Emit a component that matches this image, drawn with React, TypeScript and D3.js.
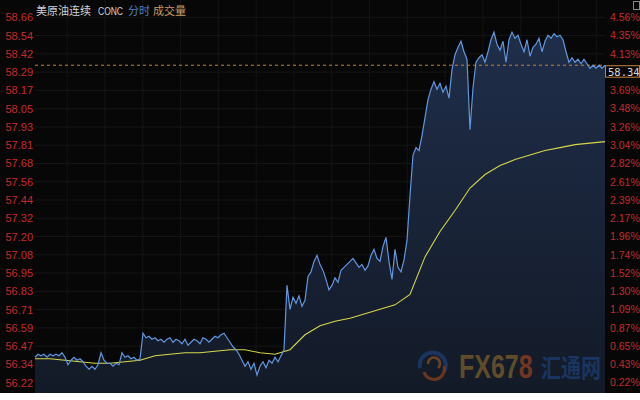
import React from "react";
import * as d3 from "d3";

const leftTicks = ["58.66","58.54","58.42","58.29","58.17","58.05","57.93","57.81","57.68","57.56","57.44","57.32","57.20","57.08","56.95","56.83","56.71","56.59","56.47","56.34","56.22"];
const rightTicks = ["4.56%","4.35%","4.13%","3.91%","3.69%","3.48%","3.26%","3.04%","2.82%","2.61%","2.39%","2.17%","1.96%","1.74%","1.52%","1.30%","1.09%","0.87%","0.65%","0.43%","0.22%"];

const priceMax = 58.66;
const priceMin = 56.22;
const lastPrice = 58.34;

// minute-by-minute price (sampled)
const prices = [
  56.39,56.41,56.40,56.41,56.39,56.41,56.40,56.41,56.40,56.42,
  56.39,56.34,56.37,56.39,56.37,56.38,56.36,56.33,56.31,56.33,
  56.31,56.34,56.42,56.37,56.35,56.35,56.33,56.35,56.34,56.42,
  56.39,56.40,56.38,56.39,56.37,56.38,56.55,56.52,56.53,56.51,
  56.52,56.50,56.51,56.49,56.51,56.52,56.49,56.51,56.50,56.48,
  56.51,56.47,56.49,56.51,56.50,56.48,56.52,56.51,56.49,56.51,
  56.53,56.52,56.54,56.55,56.52,56.49,56.46,56.44,56.41,56.37,
  56.33,56.36,56.31,56.35,56.27,56.33,56.36,56.32,56.37,56.35,
  56.39,56.36,56.40,56.44,56.87,56.71,56.79,56.75,56.80,56.73,
  56.77,56.93,56.96,57.03,57.07,57.01,56.97,56.91,56.84,56.87,
  56.92,56.89,56.97,56.99,57.01,57.03,57.05,57.02,56.99,57.01,
  56.97,57.00,57.07,57.11,57.05,57.03,57.13,57.19,57.03,56.91,
  57.11,56.99,56.96,57.04,57.17,57.47,57.74,57.79,57.77,57.87,
  57.99,58.11,58.18,58.23,58.18,58.22,58.16,58.20,58.12,58.31,
  58.41,58.46,58.50,58.43,58.38,57.91,58.19,58.36,58.39,58.41,
  58.36,58.43,58.51,58.56,58.48,58.44,58.50,58.36,58.51,58.56,
  58.52,58.54,58.48,58.43,58.51,58.40,58.46,58.48,58.52,58.43,
  58.50,58.54,58.52,58.55,58.53,58.54,58.51,58.43,58.36,58.39,
  58.36,58.38,58.35,58.38,58.35,58.32,58.34,58.32,58.34,58.32,
  58.34
];

// average price, one value every 5 samples
const avgStep = 5;
const avgPrices = [
  56.38,56.38,56.37,56.36,56.35,56.35,56.36,56.37,56.40,56.41,
  56.42,56.42,56.43,56.44,56.44,56.42,56.41,56.44,56.54,56.60,
  56.63,56.65,56.68,56.71,56.74,56.81,57.06,57.23,57.37,57.52,
  57.61,57.67,57.71,57.74,57.77,57.79,57.81,57.82,57.83
];

const W = 640;
const H = 400;
const darkH = 393;
const plotL = 35;
const plotR = 605;
const yTop = 17.3;
const yBot = 382.7;

export default function App() {
  const x = d3.scaleLinear().domain([0, prices.length - 1]).range([plotL, plotR]);
  const y = d3.scaleLinear().domain([priceMin, priceMax]).range([yBot, yTop]);

  const line = d3.line<number>().x((_, i) => x(i)).y((d) => y(d));
  const area = d3.area<number>().x((_, i) => x(i)).y0(darkH).y1((d) => y(d));
  const avgLine = d3.line<number>().x((_, i) => x(i * avgStep)).y((d) => y(d));

  const tickStep = (priceMax - priceMin) / (leftTicks.length - 1);
  const tickY = (i: number) => y(priceMax - i * tickStep);
  const vGrid = d3.range(-1, 14).map((k) => 105 + k * 37.8).filter((v) => v > plotL && v < plotR);

  const ly = y(lastPrice);
  const boxTop = ly + 0.5;
  const boxBot = ly + 12;

  return (
    <svg width={W} height={H} style={{ position: "absolute", left: 0, top: 0, display: "block" }}
      fontFamily="'Liberation Sans', Arial, sans-serif">
      <defs>
        <linearGradient id="areaGrad" gradientUnits="userSpaceOnUse" x1="0" y1="30" x2="0" y2={darkH}>
          <stop offset="0" stopColor="#1f2e4a" />
          <stop offset="1" stopColor="#131a27" />
        </linearGradient>
      </defs>
      <rect x={0} y={0} width={W} height={H} fill="#ffffff" />
      <rect x={0} y={0} width={W} height={darkH} fill="#070707" />

      {/* grid */}
      {leftTicks.map((_, i) => (
        <line key={"hg" + i} x1={plotL} x2={plotR} y1={tickY(i)} y2={tickY(i)} stroke="#161616" strokeWidth={1} />
      ))}
      {vGrid.map((v, i) => (
        <line key={"vg" + i} x1={v} x2={v} y1={0} y2={darkH} stroke="#141414" strokeWidth={1} />
      ))}

      {/* area + lines */}
      <path d={area(prices) || ""} fill="url(#areaGrad)" />
      <path d={avgLine(avgPrices) || ""} fill="none" stroke="#d6d64a" strokeWidth={1.1} />
      <path d={line(prices) || ""} fill="none" stroke="#6097e0" strokeWidth={1.2} />

      {/* last price dashed line */}
      <line x1={plotL} x2={plotR} y1={ly} y2={ly} stroke="#c8823a" strokeWidth={1} strokeDasharray="3,3" />

      {/* watermark */}
      <g opacity={0.85}>
        <path d="M 420 368 A 13 13 0 1 1 444 372" fill="none" stroke="#1d3a6a" strokeWidth={4} />
        <path d="M 424 372 A 10 10 0 0 0 444 366" fill="none" stroke="#7a3c1c" strokeWidth={3} />
        <path d="M 428 364 A 6 6 0 1 1 438 368" fill="none" stroke="#7a4a22" strokeWidth={2.5} />
        <text transform="translate(459,378) scale(1,1.3)" x={0} y={0} fontSize={25} fontWeight="bold" fill="#6e5528">
          FX67<tspan fill="#853b1f">8</tspan>
        </text>
        <text transform="translate(541,377) scale(1,1.25)" x={0} y={0} fontSize={20} fontWeight="bold" fill="#1b3a6a"
          fontFamily="'Noto Sans CJK SC', sans-serif">汇通网</text>
      </g>

      {/* left axis */}
      {leftTicks.map((t, i) => (
        <text key={"lt" + i} x={33} y={tickY(i)} dy="0.36em" textAnchor="end" fontSize={11} fill="#c42a2c">{t}</text>
      ))}
      {/* right axis (labels hidden beneath the last-price box are not drawn) */}
      {rightTicks.map((t, i) => {
        const ty = tickY(i);
        if (ty + 4 > boxTop && ty - 4 < boxBot) return null;
        return (
          <text key={"rt" + i} x={610} y={ty} dy="0.36em" textAnchor="start" fontSize={10.5} fill="#c42a2c">{t}</text>
        );
      })}

      {/* last price box */}
      <rect x={605.5} y={boxTop} width={34} height={11.5} fill="#070707" stroke="#c8823a" strokeWidth={1} />
      <text x={608} y={ly + 6.5} dy="0.36em" fontSize={10.5} fill="#d8d8d8" fontFamily="'DejaVu Sans Mono', monospace">58.34</text>

      {/* title */}
      <g fontSize={11} fontFamily="'Noto Sans CJK SC', sans-serif">
        <text x={36} y={15} fill="#d2d2d2">美原油连续</text>
        <text x={98} y={15} fill="#d2d2d2" fontSize={10} textLength={25} lengthAdjust="spacingAndGlyphs"
          fontFamily="'Liberation Sans', Arial, sans-serif">CONC</text>
        <text x={128} y={15} fill="#4f7fc4">分时</text>
        <text x={153} y={15} fill="#c79a62">成交量</text>
      </g>
      <rect x={633.5} y={1.5} width={6} height={8} fill="none" stroke="#888" strokeWidth={1} />
    </svg>
  );
}
